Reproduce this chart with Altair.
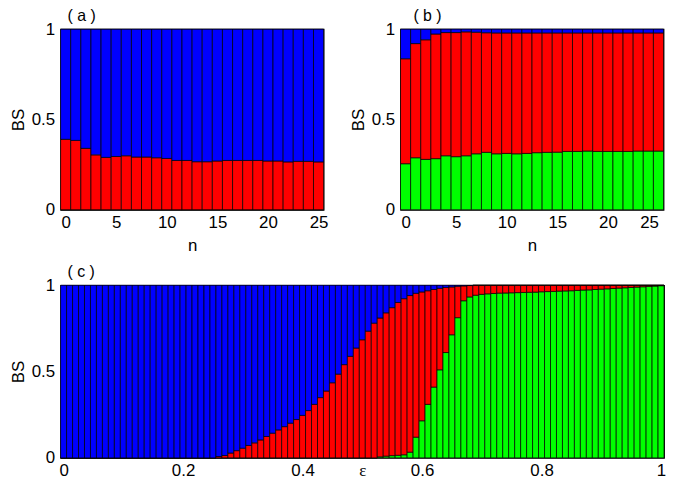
import altair as alt
import pandas as pd

# ---------------- data ----------------
# panel (a): red share (bottom); blue = 1 - red
a_n = list(range(26))
a_red = [0.390, 0.384, 0.340, 0.304, 0.290, 0.295, 0.299, 0.292, 0.292, 0.288,
         0.284, 0.273, 0.273, 0.266, 0.266, 0.270, 0.273, 0.273, 0.273, 0.273,
         0.270, 0.270, 0.265, 0.268, 0.268, 0.265]

# panel (b): green (bottom), blue (top); red = 1 - green - blue
b_n = list(range(26))
b_green = [0.255, 0.288, 0.279, 0.283, 0.299, 0.294, 0.299, 0.310, 0.318, 0.310,
           0.312, 0.310, 0.312, 0.316, 0.318, 0.319, 0.323, 0.323, 0.325, 0.323,
           0.323, 0.323, 0.323, 0.325, 0.325, 0.325]
b_blue = [0.164, 0.080, 0.059, 0.027, 0.019, 0.019, 0.015, 0.017, 0.020, 0.021,
          0.021, 0.021, 0.021, 0.021, 0.021, 0.021, 0.021, 0.021, 0.021, 0.021,
          0.021, 0.021, 0.021, 0.021, 0.021, 0.021]

# panel (c): eps = 0, 0.01, ..., 1
c_eps = [round(i * 0.01, 2) for i in range(101)]
c_blue = ([1.0] * 26 +
          [0.992, 0.986, 0.972, 0.958, 0.944, 0.928, 0.913, 0.896, 0.876, 0.857,
           0.838, 0.819, 0.799, 0.778, 0.754, 0.726, 0.690, 0.651, 0.613, 0.565,
           0.515, 0.460, 0.412, 0.364, 0.316, 0.266, 0.220, 0.190, 0.160, 0.130,
           0.100, 0.078, 0.060, 0.047, 0.039, 0.032, 0.025, 0.018, 0.013, 0.010,
           0.006, 0.004, 0.002] +
          [0.0] * 32)
c_green = ([0.0] * 53 +
           [0.006, 0.010, 0.013, 0.015, 0.018, 0.033, 0.120, 0.215, 0.310, 0.410,
            0.510, 0.610, 0.713, 0.812, 0.910, 0.932, 0.942, 0.947] +
           [0.950, 0.952, 0.954, 0.955, 0.956, 0.957, 0.958, 0.959, 0.960,
            0.962, 0.963, 0.964, 0.966, 0.967, 0.968, 0.970, 0.972, 0.973, 0.975, 0.977,
            0.979, 0.981, 0.983, 0.985, 0.987, 0.989, 0.991, 0.993, 0.995, 0.997])

panel_labels = ["( a )", "( b )", "( c )"]
SERIES = ["green", "red", "blue"]
COLORS = ["#00ff00", "#ff0000", "#0000ff"]
FONT = "Liberation Sans"
FS = 17


def long_df(xs, green, red, blue):
    rows = []
    for i, x in enumerate(xs):
        for k, (s, v) in enumerate(zip(SERIES, (green[i], red[i], blue[i]))):
            rows.append({"x": x, "s": s, "k": k, "v": v})
    return pd.DataFrame(rows)


df_a = long_df(a_n, [0.0] * 26, a_red, [1 - r for r in a_red])
df_b = long_df(b_n, b_green, [1 - g - b for g, b in zip(b_green, b_blue)], b_blue)
df_c = long_df(c_eps, c_green, [1 - g - b for g, b in zip(c_green, c_blue)], c_blue)


def panel(df, label, label_dx, xtitle, xdom, xticks, half, w, h, xfont, title_y,
          last_tick=None):
    yaxis = alt.Axis(values=[0, 0.5, 1], format="~g", title="BS", ticks=False,
                     grid=False, domain=False, labelPadding=6, titlePadding=4)
    xkw = dict(values=xticks, format="~g", title=xtitle, ticks=False,
               grid=False, domain=False, labelPadding=5,
               titleFont=xfont, titleBaseline="alphabetic", titleY=title_y)
    if last_tick is not None:
        xkw["labelAlign"] = {"condition": {"test": f"datum.value >= {last_tick}",
                                           "value": "right"},
                             "value": "center"}
    xaxis = alt.Axis(**xkw)
    bars = (
        alt.Chart(df)
        .transform_stack(stack="v", groupby=["x"], as_=["y0", "y1"],
                         sort=[alt.SortField("k", order="ascending")])
        .transform_calculate(xa=f"datum.x - {half}", xb=f"datum.x + {half}")
        .mark_bar(stroke="black", strokeWidth=0.8, strokeOpacity=0.9)
        .encode(
            x=alt.X("xa:Q", scale=alt.Scale(domain=xdom, nice=False, zero=False), axis=xaxis),
            x2="xb:Q",
            y=alt.Y("y0:Q", scale=alt.Scale(domain=[0, 1], nice=False), axis=yaxis),
            y2="y1:Q",
            color=alt.Color("s:N", scale=alt.Scale(domain=SERIES, range=COLORS), legend=None),
        )
    )
    lab = (
        alt.Chart(pd.DataFrame({"t": [label]}))
        .mark_text(align="left", baseline="alphabetic", font=FONT, fontSize=16, color="black")
        .encode(text="t:N", x=alt.value(label_dx), y=alt.value(-8.5))
    )
    return alt.layer(bars, lab).properties(width=w, height=h)


pa = panel(df_a, panel_labels[0], 7, "n", [-0.5, 25.5], [0, 5, 10, 15, 20, 25], 0.5,
           265, 182, FONT, 41)
pb = panel(df_b, panel_labels[1], 13, "n", [-0.5, 25.5], [0, 5, 10, 15, 20, 25], 0.5,
           265, 182, FONT, 41, last_tick=25)
pc = panel(df_c, panel_labels[2], 7, "ε", [-0.005, 1.005], [0, 0.2, 0.4, 0.6, 0.8, 1], 0.005,
           608, 174, "Liberation Serif", 18)

chart = (
    alt.vconcat(alt.hconcat(pa, pb, spacing=19.5), pc, spacing=8)
    .properties(padding={"top": -3.5, "left": 0, "right": 0, "bottom": 0}, background="white")
    .configure_view(stroke="black", strokeWidth=1.2)
    .configure_axis(labelFont=FONT, labelFontSize=FS, labelColor="black",
                    titleFont=FONT, titleFontSize=FS, titleFontWeight="normal",
                    titleColor="black")
)

chart.save("out.html", embed_options={"renderer": "svg", "actions": False})
